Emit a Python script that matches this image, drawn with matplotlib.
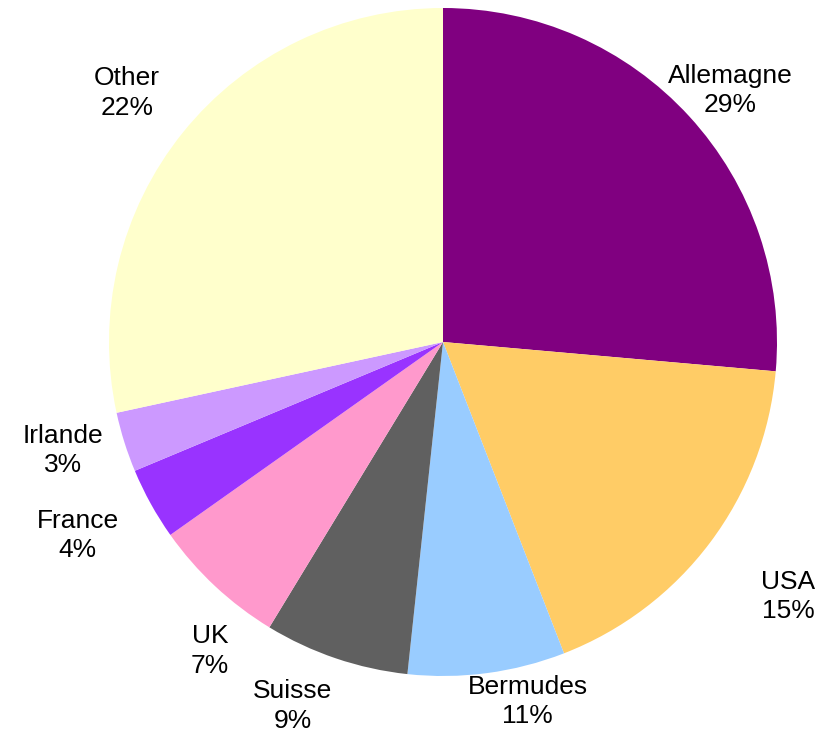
import numpy as np
import matplotlib
matplotlib.use("Agg")
import matplotlib.pyplot as plt

# slice sizes as drawn (the printed labels differ from the drawn angles)
countries = ['Allemagne', 'USA', 'Bermudes', 'Suisse', 'UK', 'France', 'Irlande', 'Other']
shares = [26.4, 17.7, 7.6, 7.0, 6.5, 3.5, 2.9, 28.4]
pct_labels = [29, 15, 11, 9, 7, 4, 3, 22]
colors = ['#800080', '#FFCC66', '#99CCFF', '#606060', '#FF99CC', '#9933FF', '#CC99FF', '#FFFFCC']

# label placement: distance from centre (in radii) and angle tweak (deg)
label_r = [1.143, 1.284, 1.106, 1.178, 1.159, 1.238, 1.183, 1.205]
label_dt = [-1.3, 0.5, 5.7, -3.7, 6.0, -1.1, -1.5, 0.7]

plt.rcParams['font.family'] = ['Liberation Sans', 'DejaVu Sans']

fig = plt.figure(figsize=(8.23, 7.37), dpi=100)
ax = fig.add_axes([0, 0, 1, 1])

wedges, _ = ax.pie(shares, colors=colors, startangle=90, counterclock=False,
                   radius=1.0, wedgeprops=dict(linewidth=0))

for i, w in enumerate(wedges):
    mid = np.deg2rad((w.theta1 + w.theta2) / 2 + label_dt[i])
    r = label_r[i]
    ax.text(r * np.cos(mid), r * np.sin(mid), f'{countries[i]}\n{pct_labels[i]}%',
            ha='center', va='center', fontsize=19, linespacing=1.3)

ax.set_xlim(-443 / 334, 380 / 334)
ax.set_ylim(-395 / 334, 342 / 334)
ax.set_aspect('auto')
ax.axis('off')

fig.savefig('out.png', dpi=100)
